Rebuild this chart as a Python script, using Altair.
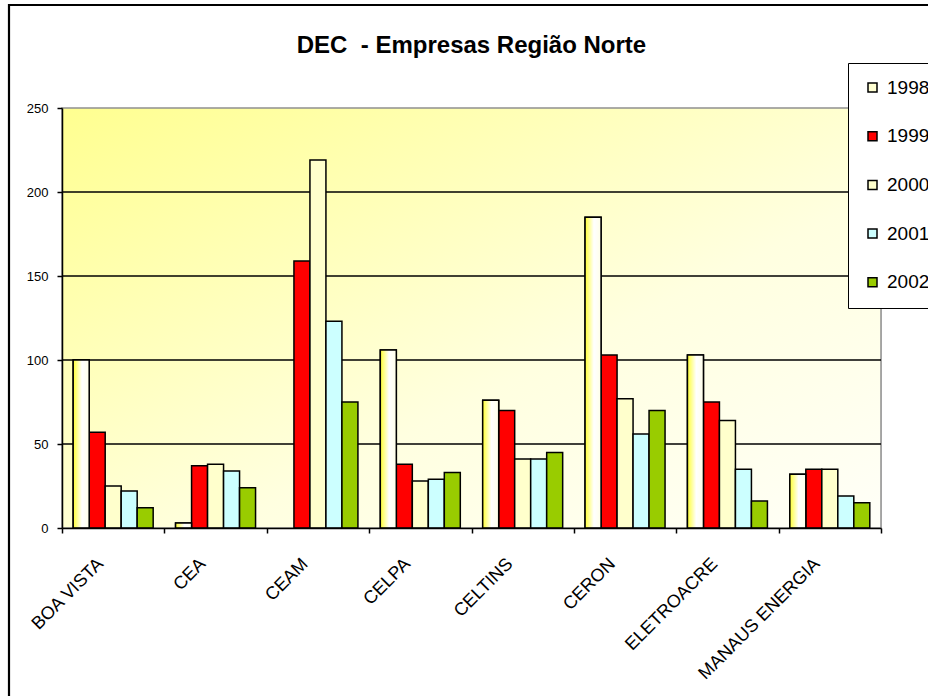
import altair as alt
import pandas as pd

categories = ["BOA VISTA", "CEA", "CEAM", "CELPA", "CELTINS", "CERON", "ELETROACRE", "MANAUS ENERGIA"]
years = ["1998", "1999", "2000", "2001", "2002"]
dec_1998 = [100, 3, None, 106, 76, 185, 103, 32]
dec_1999 = [57, 37, 159, 38, 70, 103, 75, 35]
dec_2000 = [25, 38, 219, 28, 41, 77, 64, 35]
dec_2001 = [22, 34, 123, 29, 41, 56, 35, 19]
dec_2002 = [12, 24, 75, 33, 45, 70, 16, 15]
y_ticks = [0, 50, 100, 150, 200, 250]
grid_values = [50, 100, 150, 200]
colors = ["#FFFFD2", "#FF0000", "#FFFFCC", "#CCFFFF", "#99CC00"]

series = [dec_1998, dec_1999, dec_2000, dec_2001, dec_2002]
rows = []
for yr, vals in zip(years, series):
    for cat, v in zip(categories, vals):
        if v is not None:
            rows.append({"empresa": cat, "ano": yr, "dec": v})
df = pd.DataFrame(rows)
grid_df = pd.DataFrame({"dec": grid_values})

FONT = "Liberation Sans"

x_enc = alt.X(
    "empresa:N", sort=categories, title=None,
    scale=alt.Scale(paddingInner=0, paddingOuter=0),
    axis=alt.Axis(labelAngle=-45, labelAlign="right", labelBaseline="middle",
                  labelPadding=28, labelOffset=-13, tickBand="extent",
                  labelFontSize=18, labelFont=FONT, labelColor="black",
                  domainColor="black", domainWidth=1.5, tickColor="black",
                  tickSize=5, tickWidth=1.5, grid=False, labelLimit=300, zindex=1),
)
xoff_enc = alt.XOffset("ano:N", scale=alt.Scale(domain=years, paddingInner=0, paddingOuter=0.7))
y_scale = alt.Scale(domain=[0, 250], nice=False)
y_axis = alt.Axis(values=y_ticks, labelFontSize=13, labelFont=FONT,
                  labelColor="black", domainColor="black", domainWidth=1.5,
                  tickColor="black", tickSize=5, tickWidth=1.5, labelPadding=9,
                  grid=False, zindex=1)
y_enc = alt.Y("dec:Q", title=None, scale=y_scale, axis=y_axis)

bg = alt.LinearGradient(
    gradient="linear", x1=0, x2=1, y1=0, y2=1,
    stops=[alt.GradientStop(color="#FFFF90", offset=0),
           alt.GradientStop(color="#FFFFE0", offset=0.6),
           alt.GradientStop(color="#FFFFF8", offset=1)],
)
background = alt.Chart(alt.Data(values=[{}])).mark_rect(
    fill=bg, stroke="#909090", strokeWidth=1.5
).encode(x=alt.value(0), x2=alt.value(819), y=alt.value(0), y2=alt.value(420))

grid = alt.Chart(grid_df).mark_rule(color="black", strokeWidth=1.3).encode(
    y=y_enc, x=alt.value(0), x2=alt.value(819),
)

bars = alt.Chart(df).mark_bar(stroke="black", strokeWidth=1.5).encode(
    x=x_enc, xOffset=xoff_enc, y=y_enc,
    color=alt.Color("ano:N", scale=alt.Scale(domain=years, range=colors),
                    legend=alt.Legend(title=None, orient="none", legendX=786, legendY=-45,
                                      fillColor="white", strokeColor="black",
                                      padding=15, rowPadding=28.7, symbolType="square",
                                      symbolSize=81, symbolStrokeColor="black",
                                      symbolStrokeWidth=1.5, labelFontSize=19,
                                      labelFont=FONT, labelColor="black", labelOffset=5)),
)

grad_1998 = alt.LinearGradient(
    gradient="linear", x1=0, x2=1, y1=0, y2=0,
    stops=[alt.GradientStop(color="#FFFF33", offset=0),
           alt.GradientStop(color="#FFFFFF", offset=0.55),
           alt.GradientStop(color="#FFFFE8", offset=1)],
)
bars_1998 = alt.Chart(df).transform_filter(alt.datum.ano == "1998").mark_bar(
    stroke="black", strokeWidth=1.5, fill=grad_1998
).encode(x=x_enc, xOffset=xoff_enc, y=y_enc)

frame = alt.Chart(alt.Data(values=[{}])).mark_rect(
    fill=None, stroke="black", strokeWidth=2.2
).encode(x=alt.value(-53), x2=alt.value(900), y=alt.value(-103), y2=alt.value(620))

chart = alt.layer(background, grid, bars, bars_1998, frame).properties(
    width=819, height=420,
    autosize=alt.AutoSizeParams(type="none"),
    padding={"left": 62, "top": 108, "right": 47, "bottom": 168},
    title=alt.TitleParams("DEC \u00a0- Empresas Região Norte", font=FONT, fontSize=24,
                          fontWeight="bold", color="black", offset=0, dy=73,
                          anchor="middle", baseline="alphabetic"),
).configure_view(
    stroke=None
).configure_legend(strokeWidth=1.5).configure(background="white")

chart.save("out.html", embed_options={"renderer": "svg", "actions": False})
